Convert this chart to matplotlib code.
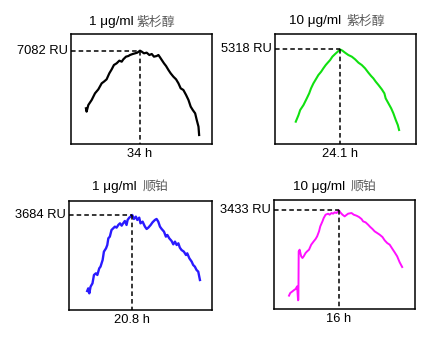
import numpy as np
from matplotlib import pyplot as plt

# panel 1: 1 ug/ml 紫杉醇 (black)
t1 = [0.0, 0.4, 1.5, 3.6, 5.7, 7.8, 9.9, 11.3, 13.0, 14.7, 16.2, 17.6, 19.3, 21.0, 22.5, 23.5,
      25.2, 26.7, 27.7, 29.4, 30.9, 32.3, 34.0, 35.1, 36.5, 38.2, 39.9, 41.4, 42.8, 44.5, 45.6,
      46.6, 47.7, 49.1, 50.4, 51.9, 53.3, 55.0, 56.7, 58.2, 59.6, 61.3, 63.0, 64.5, 65.9, 67.2,
      68.7, 69.7, 70.8, 71.2]
ru1 = [2707, 2454, 2960, 3340, 3846, 4149, 4605, 4731, 4908, 5364, 5667, 5996, 6123, 6325, 6249, 6426,
       6629, 6679, 6755, 6831, 6882, 6932, 7082, 7008, 6882, 6932, 6755, 6831, 6629, 6679, 6755,
       6578, 6376, 6123, 5920, 5617, 5364, 5111, 4908, 4605, 4225, 4099, 3719, 3340, 2834, 2581,
       2328, 1822, 1316, 683]

# panel 2: 10 ug/ml 紫杉醇 (green)
t2 = [0.0, 1.5, 2.4, 4.2, 6.0, 7.3, 8.3, 9.6, 10.9, 12.3, 13.8, 15.0, 16.3, 17.4, 18.7, 19.9,
      21.4, 22.8, 24.1, 25.4, 26.8, 28.6, 30.5, 32.3, 34.1, 35.9, 37.7, 39.5, 41.0, 42.2, 43.5,
      45.0, 46.8, 48.2, 48.9, 50.4, 51.9, 53.1, 54.4, 55.5, 56.2]
ru2 = [1255, 1630, 1910, 2191, 2566, 2847, 3128, 3409, 3634, 3877, 4064, 4252, 4439, 4570, 4720, 4907,
       5057, 5188, 5318, 5244, 5132, 5001, 4907, 4757, 4570, 4439, 4252, 4008, 3821, 3690, 3503,
       3315, 3072, 2847, 2566, 2285, 2004, 1723, 1349, 1068, 787]

# panel 3: 1 ug/ml 顺铂 (blue)
t3 = [-0.5, 0.0, 0.5, 1.1, 2.0, 2.7, 3.6, 4.3, 5.2, 5.8, 6.8, 7.4, 8.4, 9.0, 9.5, 10.2, 11.0,
      11.8, 12.6, 13.4, 14.2, 15.0, 15.8, 16.5, 17.3, 18.1, 18.6, 19.4, 20.0, 20.8, 21.6, 22.5,
      23.2, 24.1, 24.7, 25.7, 26.8, 27.6, 28.4, 29.5, 30.4, 31.5, 32.3, 33.1, 33.9, 34.7, 35.8,
      36.7, 37.4, 38.3, 39.4, 40.2, 41.0, 41.8, 42.6, 43.3, 44.1, 45.2, 46.2, 46.8, 47.8, 48.9,
      49.6, 50.4, 51.2, 52.0, 52.8]
ru3 = [737, 840, 647, 905, 1034, 1358, 1422, 1358, 1616, 1681, 1940, 2263, 2392, 2521, 2780, 2845, 3103,
       3168, 3233, 3194, 3297, 3362, 3271, 3362, 3452, 3297, 3491, 3582, 3620, 3684, 3530, 3620,
       3491, 3582, 3362, 3426, 3233, 3142, 3194, 3297, 3401, 3491, 3530, 3426, 3233, 3142, 3039,
       2845, 2909, 2780, 2677, 2547, 2651, 2521, 2586, 2418, 2327, 2263, 2133, 2198, 2004, 1875,
       1746, 1681, 1552, 1487, 1164]

# panel 4: 10 ug/ml 顺铂 (magenta)
t4 = [0.0, 0.4, 1.1, 1.5, 2.1, 2.6, 2.9, 3.0, 3.1, 3.4, 3.9, 4.3, 4.7, 5.3, 5.8, 6.4, 7.1, 7.9,
      8.5, 9.0, 9.6, 10.0, 10.7, 11.1, 11.7, 12.5, 13.0, 13.6, 14.1, 14.6, 15.2, 15.7, 16.0, 16.4,
      17.1, 17.8, 18.9, 20.0, 20.7, 21.6, 22.4, 23.2, 23.7, 24.5, 25.3, 26.0, 26.7, 27.4, 28.2,
      29.0, 29.9, 30.6, 31.4, 32.2, 33.1, 33.8, 34.6, 35.4, 36.2]
ru4 = [464, 556, 614, 649, 695, 788, 301, 325, 2005, 2063, 1831, 1773, 1831, 1947, 2005, 2063, 2237, 2353,
       2434, 2527, 2700, 2874, 3048, 3164, 3280, 3315, 3280, 3338, 3315, 3361, 3338, 3396, 3433, 3361,
       3280, 3222, 3315, 3338, 3280, 3245, 3199, 3129, 3048, 3013, 2932, 2851, 2782, 2700, 2643,
       2585, 2503, 2388, 2295, 2237, 2086, 1970, 1831, 1623, 1460]

doses = ['1 μg/ml', '10 μg/ml', '1 μg/ml', '10 μg/ml']
drugs = ['紫杉醇', '紫杉醇', '顺铂', '顺铂']
peak_t = [34.0, 24.1, 20.8, 16.0]
peak_ru = [7082, 5318, 3684, 3433]
peak_t_labels = ['34 h', '24.1 h', '20.8 h', '16 h']

W, H = 425, 337
# box pixel extents (left, top, right, bottom)
boxes = [(71, 34, 212, 144), (275, 34, 416, 144), (69, 201, 212, 310), (274, 200, 415, 309)]
xlims = [(-9.4, 79.3), (-11.3, 65.4), (-9.1, 58.5), (-4.8, 40.3)]
ylims = [(0, 8349), (0, 6182), (0, 4227), (0, 3791)]
colors = ['black', '#10e010', '#2a1aff', '#ff10ff']
widths = [1.6, 1.5, 1.7, 1.4]
# title: (x where dose text ends, x where drug text starts, y)
title_pos = [(134, 137, 22), (341, 347, 21), (137, 143, 187), (345, 351, 187)]

fig = plt.figure(figsize=(W / 100, H / 100), dpi=100)
series = [(t1, ru1), (t2, ru2), (t3, ru3), (t4, ru4)]

for i, (t, ru) in enumerate(series):
    l, top, r, b = boxes[i]
    ax = fig.add_axes([l / W, 1 - b / H, (r - l) / W, (b - top) / H])
    ax.plot(t, ru, color=colors[i], lw=widths[i])
    ax.set_xlim(*xlims[i])
    ax.set_ylim(*ylims[i])
    ax.set_xticks([])
    ax.set_yticks([])
    for s in ax.spines.values():
        s.set_linewidth(1.1)

    x0 = xlims[i][0]
    ax.plot([x0, peak_t[i]], [peak_ru[i], peak_ru[i]], color='black', lw=1.1,
            dashes=(3, 2), clip_on=False)
    ax.plot([peak_t[i], peak_t[i]], [peak_ru[i], 0], color='black', lw=1.1,
            dashes=(3, 2), clip_on=False)

    ax.annotate('%d RU' % peak_ru[i], xy=(x0, peak_ru[i]), xytext=(-3, 0),
                textcoords='offset pixels', ha='right', va='center',
                fontsize=9.3, family='Liberation Sans')
    ax.annotate(peak_t_labels[i], xy=(peak_t[i], 0), xytext=(0, -10),
                textcoords='offset pixels', ha='center', va='center',
                fontsize=9.3, family='Liberation Sans')

    xe, xs, yt = title_pos[i]
    fig.text(xe / W, 1 - yt / H, doses[i], ha='right', va='center',
             fontsize=9.7, family='Liberation Sans')
    fig.text(xs / W, 1 - yt / H, drugs[i], ha='left', va='center',
             fontsize=9.3, color='#5a5a5a', family=['Noto Sans CJK SC', 'DejaVu Sans'])

fig.savefig('out.png', dpi=100)
